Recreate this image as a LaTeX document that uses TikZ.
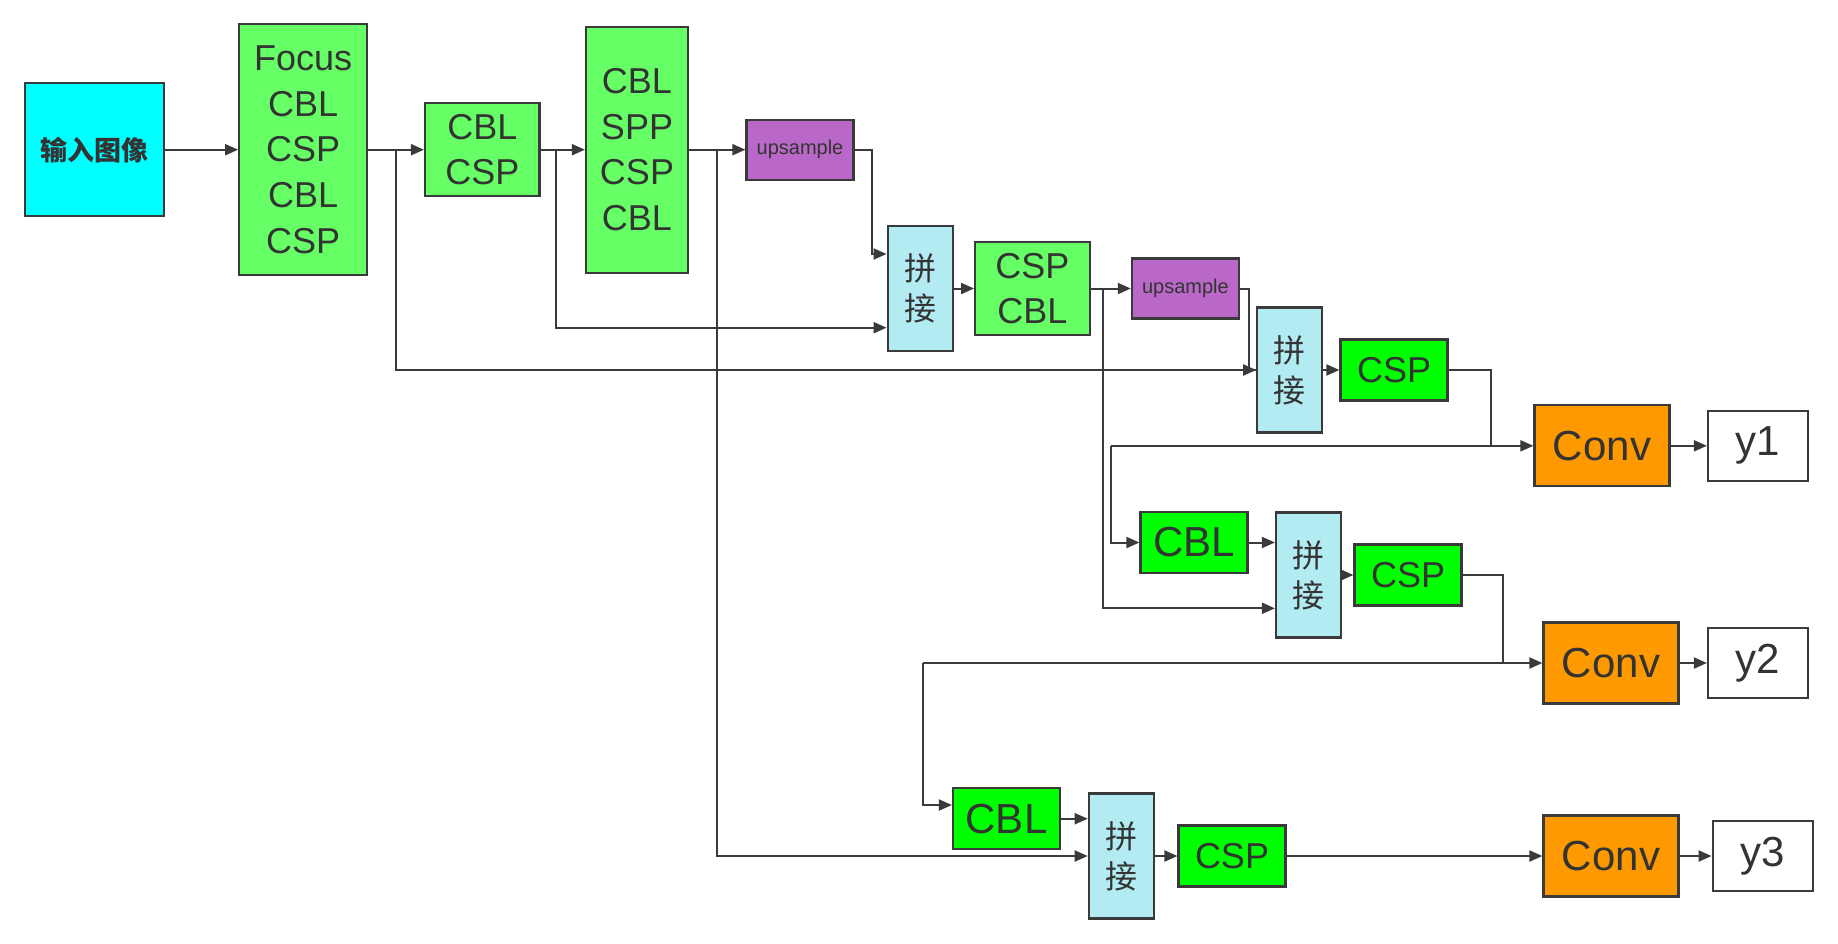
\documentclass[tikz,border=0pt]{standalone}
\usepackage{fontspec}
\setmainfont{Liberation Sans}
\newfontfamily\cjkfont{Noto Sans CJK SC}
\usetikzlibrary{arrows.meta}
\definecolor{linegray}{HTML}{3A3A3A}
\definecolor{textgray}{HTML}{333333}
\definecolor{incyan}{HTML}{00FFFF}
\definecolor{softgreen}{HTML}{66FF66}
\definecolor{puregreen}{HTML}{00FF00}
\definecolor{upviolet}{HTML}{BA68C8}
\definecolor{catblue}{HTML}{B2EBF2}
\definecolor{convorange}{HTML}{FF9900}
\tikzset{
  blk/.style={draw=linegray,line width=2.2pt,inner sep=0pt,text=textgray,align=center},
  stackbox/.style={blk,fill=softgreen,font=\fontsize{36}{45.7}\selectfont},
  upbox/.style={blk,fill=upviolet,minimum width=107pt,minimum height=60pt,font=\fontsize{20}{24}\selectfont},
  catbox/.style={blk,fill=catblue,minimum width=65pt,minimum height=125pt,font=\cjkfont\fontsize{32}{40}\selectfont},
  unitbox/.style={blk,fill=puregreen,minimum width=107pt,minimum height=61pt},
  convbox/.style={blk,fill=convorange,minimum width=135pt,minimum height=81pt,font=\fontsize{42}{50}\selectfont},
  outbox/.style={blk,fill=white,minimum width=100pt,minimum height=70pt,font=\fontsize{42}{50}\selectfont},
  link/.style={draw=linegray,line width=2pt},
  flow/.style={link,-{Triangle[length=13pt,width=11pt]}}
}
\begin{document}
\begin{tikzpicture}[x=1pt,y=-1pt]
  \useasboundingbox (0,0) rectangle (1838,943);
  % backbone
  \node[blk,fill=incyan,minimum width=139pt,minimum height=133pt,
    font=\cjkfont\bfseries\fontsize{27}{32}\selectfont] (img) at (94.3,149.7) {输入图像};
  \node[stackbox,minimum width=128pt,minimum height=251pt] (focus) at (303.2,149.7)
    {Focus\\CBL\\CSP\\CBL\\CSP};
  \node[stackbox,minimum width=114.5pt,minimum height=93pt] (stage1) at (482.3,149.7) {CBL\\CSP};
  \node[stackbox,minimum width=102pt,minimum height=246pt] (spp) at (637,149.7)
    {CBL\\SPP\\CSP\\CBL};
  % neck
  \node[upbox] (up1) at (800,149.7) {upsample};
  \node[catbox] (cat1) at (920.2,288.5) {拼\\接};
  \node[stackbox,minimum width=114.5pt,minimum height=93pt] (neck1) at (1032.4,288.5) {CSP\\CBL};
  \node[upbox] (up2) at (1185.4,288.5) {upsample};
  \node[catbox] (cat2) at (1289.8,370) {拼\\接};
  \node[unitbox,font=\fontsize{36}{40}\selectfont] (csp1) at (1394,370) {CSP};
  \node[unitbox,font=\fontsize{42}{46}\selectfont] (cbl2) at (1194,542.5) {CBL};
  \node[catbox] (cat3) at (1308.5,575) {拼\\接};
  \node[unitbox,font=\fontsize{36}{40}\selectfont] (csp2) at (1408,575) {CSP};
  \node[unitbox,font=\fontsize{42}{46}\selectfont] (cbl3) at (1006.5,818.7) {CBL};
  \node[catbox] (cat4) at (1121.3,856) {拼\\接};
  \node[unitbox,font=\fontsize{36}{40}\selectfont] (csp3) at (1232,856) {CSP};
  % heads
  \node[convbox] (conv1) at (1602,445.8) {Conv};
  \node[convbox] (conv2) at (1611,663) {Conv};
  \node[convbox] (conv3) at (1611,856) {Conv};
  \node[outbox] (y1) at (1758,445.8) {y1};
  \node[outbox] (y2) at (1758,663) {y2};
  \node[outbox] (y3) at (1762.7,856) {y3};
  % branch points
  \coordinate (b1) at (396,149.7);
  \coordinate (b2) at (556,149.7);
  \coordinate (b3) at (716.5,149.7);
  \coordinate (b4) at (1102.5,288.5);
  \coordinate (k1) at (1491,445.8);
  \coordinate (k2) at (1110.5,445.8);
  \coordinate (k3) at (1502.5,663);
  \coordinate (k4) at (923.4,663);
  % connectors
  \draw[flow] (img) -- (focus);
  \draw[flow] (focus) -- (stage1);
  \draw[flow] (stage1) -- (spp);
  \draw[flow] (spp) -- (up1);
  \draw[flow] (up1.east) -- ++(17.5,0) |- ([yshift=34.5pt]cat1.west);
  \draw[flow] (b2) |- ([yshift=-39.2pt]cat1.west);
  \draw[flow] (cat1) -- (neck1);
  \draw[flow] (neck1) -- (up2);
  \draw[link] (up2.east) -- ++(9,0) |- (cat2.west);
  \draw[flow] (b1) |- (cat2.west);
  \draw[flow] (cat2) -- (csp1);
  \draw[link] (csp1.east) -| (k1);
  \draw[flow] (k2) -- (conv1.west);
  \draw[flow] (k2) |- (cbl2.west);
  \draw[flow] (b4) |- ([yshift=-33.3pt]cat3.west);
  \draw[flow] (cbl2.east) -- (cbl2.east -| cat3.west);
  \draw[flow] (cat3) -- (csp2);
  \draw[link] (csp2.east) -| (k3);
  \draw[flow] (k4) -- (conv2.west);
  \draw[flow] (k4) |- ([yshift=13.7pt]cbl3.west);
  \draw[flow] (cbl3.east) -- (cbl3.east -| cat4.west);
  \draw[flow] (b3) |- (cat4.west);
  \draw[flow] (cat4) -- (csp3);
  \draw[flow] (csp3) -- (conv3);
  \draw[flow] (conv1) -- (y1);
  \draw[flow] (conv2) -- (y2);
  \draw[flow] (conv3) -- (y3);
\end{tikzpicture}
\end{document}
